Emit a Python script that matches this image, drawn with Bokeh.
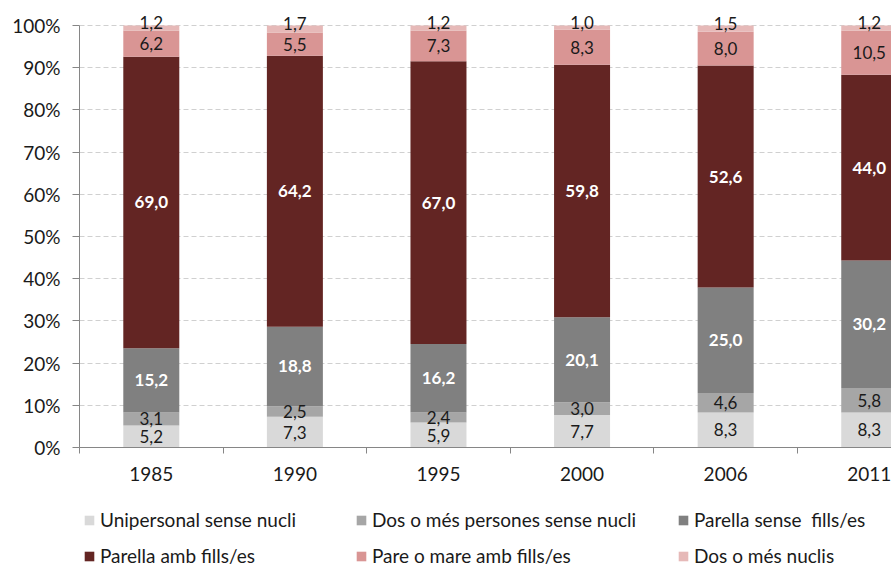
from bokeh.plotting import figure
from bokeh.layouts import column
from bokeh.models import (ColumnDataSource, Range1d, FixedTicker, PrintfTickFormatter,
                          Legend, LegendItem, LabelSet)
from bokeh.core.properties import value
from bokeh.embed import file_html
from bokeh.resources import INLINE

years = ["1985", "1990", "1995", "2000", "2006", "2011"]
series_names = [
    "Unipersonal sense nucli",
    "Dos o més persones sense nucli",
    "Parella sense  fills/es",
    "Parella amb fills/es",
    "Pare o mare amb fills/es",
    "Dos o més nuclis",
]
unipersonal = [5.2, 7.3, 5.9, 7.7, 8.3, 8.3]
dos_persones = [3.1, 2.5, 2.4, 3.0, 4.6, 5.8]
parella_sense = [15.2, 18.8, 16.2, 20.1, 25.0, 30.2]
parella_amb = [69.0, 64.2, 67.0, 59.8, 52.6, 44.0]
pare_mare = [6.2, 5.5, 7.3, 8.3, 8.0, 10.5]
dos_nuclis = [1.2, 1.7, 1.2, 1.0, 1.5, 1.2]
y_ticks = [0, 10, 20, 30, 40, 50, 60, 70, 80, 90, 100]

series = [unipersonal, dos_persones, parella_sense, parella_amb, pare_mare, dos_nuclis]
colors = ["#d9d9d9", "#a6a6a6", "#808080", "#632523", "#d99594", "#e6b9b8"]
label_colors = ["#1a1a1a", "#1a1a1a", "#ffffff", "#ffffff", "#1a1a1a", "#1a1a1a"]
label_styles = ["normal", "normal", "bold", "bold", "normal", "normal"]
label_offsets = [0, 0, 0, 0, 0, 5]

# legend grid: (x offset from plot frame left, y offset from bottom) per item
legend_cols = [4, 276, 598]
legend_rows = [36, 0]

FONT = "Lato"
W = 891
xs = list(range(len(years)))
totals = [sum(s[i] for s in series) for i in xs]

p = figure(width=W, height=495, x_range=Range1d(-0.5, 5.155), y_range=Range1d(0, 104),
           output_backend="svg", toolbar_location=None,
           min_border_left=79, min_border_right=0, min_border_top=8, min_border_bottom=48)
p.outline_line_color = None
p.background_fill_color = "white"

p.xaxis.ticker = FixedTicker(ticks=xs, minor_ticks=[-0.5, 0.5, 1.5, 2.5, 3.5, 4.5])
p.xaxis.major_label_overrides = {i: y for i, y in enumerate(years)}
p.xaxis.major_tick_line_color = None
p.xaxis.major_tick_out = 0
p.xaxis.major_tick_in = 0
p.xaxis.minor_tick_out = 6
p.xaxis.minor_tick_in = 0
p.xaxis.minor_tick_line_color = "#868686"
p.xaxis.axis_line_color = "#868686"
p.xaxis.major_label_text_font = FONT
p.xaxis.major_label_text_font_size = "19px"
p.xaxis.major_label_text_color = "#1a1a1a"
p.xaxis.major_label_standoff = 13

p.yaxis.ticker = FixedTicker(ticks=y_ticks)
p.yaxis.bounds = (0, 100)
p.yaxis.formatter = PrintfTickFormatter(format="%d%%")
p.yaxis.minor_tick_line_color = None
p.yaxis.major_tick_out = 7
p.yaxis.major_tick_in = 0
p.yaxis.major_tick_line_color = "#868686"
p.yaxis.axis_line_color = "#868686"
p.yaxis.major_label_text_font = FONT
p.yaxis.major_label_text_font_size = "19px"
p.yaxis.major_label_text_color = "#1a1a1a"
p.yaxis.major_label_standoff = 12

p.xgrid.visible = False
p.ygrid.ticker = FixedTicker(ticks=y_ticks[1:])
p.ygrid.grid_line_color = "#d0d0d0"
p.ygrid.grid_line_dash = "5 3"

# legend strip below the chart
lg = figure(width=W, height=72, x_range=Range1d(0, 1), y_range=Range1d(0, 1),
            output_backend="svg", toolbar_location=None,
            min_border_left=0, min_border_right=0, min_border_top=0, min_border_bottom=0)
lg.axis.visible = False
lg.grid.visible = False
lg.outline_line_color = None

cum = [0.0] * len(xs)
for k, (name, vals) in enumerate(zip(series_names, series)):
    bottoms = [cum[i] for i in xs]
    tops = [cum[i] + vals[i] / totals[i] * 100 for i in xs]
    mids = [(b + t) / 2 for b, t in zip(bottoms, tops)]
    labels = [f"{v:.1f}".replace(".", ",") for v in vals]
    src = ColumnDataSource(dict(x=xs, bottom=bottoms, top=tops, mid=mids, label=labels))
    p.vbar(x="x", width=0.39, bottom="bottom", top="top", source=src,
           fill_color=colors[k], line_color=None)
    p.add_layout(LabelSet(x="x", y="mid", text="label", source=src, text_align="center",
                          text_baseline="middle", text_font=value(FONT), text_font_size="17px",
                          text_font_style=label_styles[k],
                          text_color=label_colors[k], y_offset=label_offsets[k]))
    # zero-height swatch renderer, used only for the legend entry
    swatch = lg.vbar(x=[0.5], width=0.1, bottom=[0.5], top=[0.5],
                     fill_color=colors[k], line_color=None)
    leg = Legend(items=[LegendItem(label=name, renderers=[swatch])],
                 location=(legend_cols[k % 3], legend_rows[k // 3]),
                 label_text_font=FONT, label_text_font_size="19px", label_text_color="#1a1a1a",
                 glyph_width=12, glyph_height=12, label_standoff=5, spacing=0,
                 padding=0, margin=0, border_line_color=None, background_fill_alpha=0,
                 label_height=22)
    lg.add_layout(leg, "center")
    cum = tops

open("out.html", "w").write(file_html(column(p, lg, spacing=0), INLINE))
